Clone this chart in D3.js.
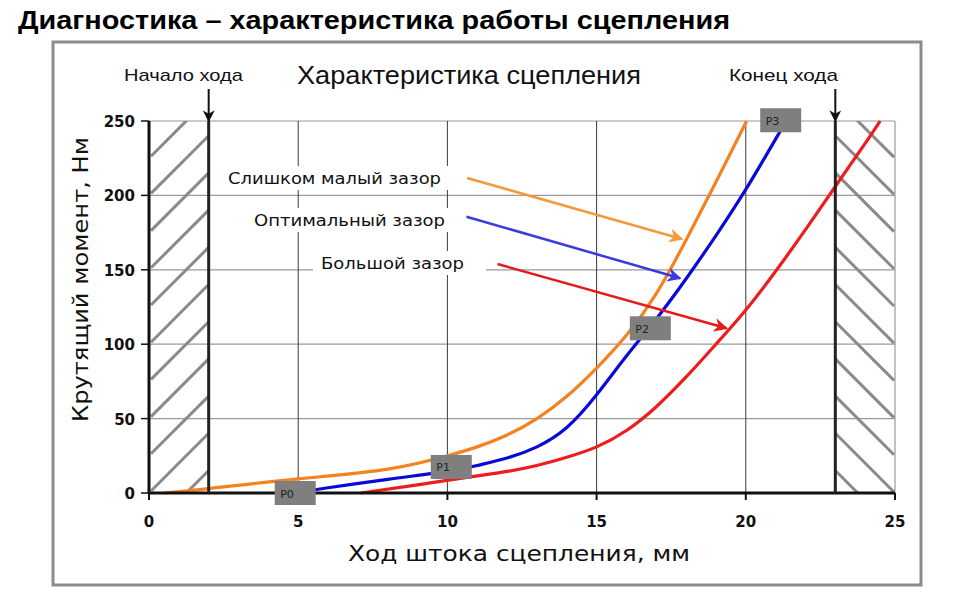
<!DOCTYPE html>
<html><head><meta charset="utf-8">
<script src="https://cdn.jsdelivr.net/npm/d3@7/dist/d3.min.js"></script>
<style>body{margin:0;background:#fff}svg{display:block}</style>
</head><body>
<svg id="c" width="960" height="592"></svg>
<script>
// ---- data ----
const pageTitle = "Диагностика – характеристика работы сцепления";
const chartTitle = "Характеристика сцепления";
const xLabel = "Ход штока сцепления, мм";
const yLabel = "Крутящий момент, Нм";
const xTicks = [0, 5, 10, 15, 20, 25];
const yTicks = [0, 50, 100, 150, 200, 250];
const strokeStart = 2;   // Начало хода
const strokeEnd = 23;    // Конец хода
const markerLabels = ["Начало хода", "Конец хода"];
const seriesNames = ["Слишком малый зазор", "Оптимальный зазор", "Большой зазор"];
const seriesColors = ["#f5821f", "#0a0ad8", "#ee1c1c"];
const arrowColors = ["#f59a3a", "#3a3ae0", "#e61a1a"];
const tooSmall = [[0.5,0],[2,3],[5,9.5],[8,16],[10,25],[11,31],[12,39],[13,50],[14,65],[15,84],[16,106],[17,134],[18,170],[19,209],[20.03,250]];
const optimal  = [[4.9,0],[6,3.5],[8,9.2],[10,14.5],[11,18.5],[12,23.5],[13,31],[14,44],[15,66],[16,92],[17,117],[18,144],[19,173],[20,204],[21.15,243]];
const large    = [[7.1,0],[9,5.5],[11,11.5],[12,14.5],[13,18.5],[14,24],[15,31],[16,42],[17,58],[18,78],[19,100],[20,123],[21,149],[22,177],[23,206],[24,235],[24.5,250]];
// annotation arrows: [label x-end, label y] -> [tip x, tip y] in data units
const arrowStarts = [[10.66,211.7],[10.64,185.7],[11.68,153.9]];
const arrowTips   = [[17.86,170.7],[17.8,144.3],[19.36,110.7]];
const pointNames  = ["P0","P1","P2","P3"];
const pointPos    = [[4.9,0],[10.13,17.5],[16.8,110.7],[21.17,250.5]];

// ---- chart ----
const svg = d3.select("#c");
const x = d3.scaleLinear().domain([0,25]).range([149,895]);
const y = d3.scaleLinear().domain([0,250]).range([493,121]);

const defs = svg.append("defs");
function marker(id, color, size){
  defs.append("marker").attr("id",id).attr("viewBox","0 0 10 10").attr("refX",9).attr("refY",5)
    .attr("markerWidth",size).attr("markerHeight",size).attr("orient","auto").attr("markerUnits","userSpaceOnUse")
    .append("path").attr("d","M0,0 L10,5 L0,10 L3,5 z").attr("fill",color);
}
arrowColors.forEach((c,i)=>marker("m"+i,c,14));
marker("mk","#111",12);

// page title
svg.append("text").attr("x",18).attr("y",29).attr("font-family","'Liberation Sans',Arial,sans-serif")
  .attr("font-weight","bold").attr("font-size",25).attr("fill","#000")
  .attr("textLength",712).attr("lengthAdjust","spacingAndGlyphs").text(pageTitle);

// frame
svg.append("rect").attr("x",53).attr("y",42).attr("width",868).attr("height",543)
  .attr("fill","#fff").attr("stroke","#8c8c8c").attr("stroke-width",3);

// chart title
svg.append("text").attr("x",297).attr("y",84).attr("font-family","'Liberation Sans Narrow','Liberation Sans',Arial,sans-serif")
  .attr("font-size",25).attr("fill","#111").attr("textLength",344).attr("lengthAdjust","spacingAndGlyphs").text(chartTitle);

// grid
const g = svg.append("g");
g.selectAll(".hg").data(yTicks.filter(d=>d>0)).join("line")
  .attr("x1",x(0)).attr("x2",x(25)).attr("y1",d=>y(d)).attr("y2",d=>y(d))
  .attr("stroke","#9a9a9a").attr("stroke-width",1.2);
g.selectAll(".vg").data(xTicks.filter(d=>d>0&&d<25)).join("line")
  .attr("x1",d=>x(d)).attr("x2",d=>x(d)).attr("y1",y(250)).attr("y2",y(0))
  .attr("stroke","#3a3a3a").attr("stroke-width",1);
g.append("line").attr("x1",x(25)).attr("x2",x(25)).attr("y1",y(250)).attr("y2",y(0))
  .attr("stroke","#9a9a9a").attr("stroke-width",1.2);

// label backgrounds and labels
const lblY = [178, 220, 263];
const lblX0 = [228, 254, 321], lblX1 = [441, 445, 464];
seriesNames.forEach((n,i)=>{
  g.append("rect").attr("x",lblX0[i]-8).attr("y",lblY[i]-12).attr("width",lblX1[i]-lblX0[i]+ (i==2?30:16)).attr("height",24).attr("fill","#fff");
  g.append("text").attr("x",lblX0[i]).attr("y",lblY[i]+6).attr("font-family","'DejaVu Sans',Verdana,sans-serif")
    .attr("font-size",16.5).attr("fill","#111").attr("textLength",lblX1[i]-lblX0[i]).attr("lengthAdjust","spacingAndGlyphs").text(n);
});

// hatching
defs.append("clipPath").attr("id","cl").append("rect").attr("x",x(0)).attr("y",y(250)).attr("width",x(strokeStart)-x(0)).attr("height",y(0)-y(250));
defs.append("clipPath").attr("id","cr").append("rect").attr("x",x(strokeEnd)).attr("y",y(250)).attr("width",x(25)-x(strokeEnd)).attr("height",y(0)-y(250));
const hv = d3.range(-25, 300, 25);
const wL = x(strokeStart)-x(0), wR = x(25)-x(strokeEnd);
svg.append("g").attr("clip-path","url(#cl)").selectAll("line").data(hv).join("line")
  .attr("x1",x(0)+2).attr("y1",d=>y(d)-2).attr("x2",x(strokeStart)).attr("y2",d=>y(d)-wL)
  .attr("stroke","#8a8a8a").attr("stroke-width",3);
svg.append("g").attr("clip-path","url(#cr)").selectAll("line").data(hv).join("line")
  .attr("x1",x(strokeEnd)).attr("y1",d=>y(d)-wR).attr("x2",x(25)-1).attr("y2",d=>y(d)-1)
  .attr("stroke","#8a8a8a").attr("stroke-width",3);

// curves
const line = d3.line().x(d=>x(d[0])).y(d=>y(d[1])).curve(d3.curveNatural);
[tooSmall, optimal, large].forEach((s,i)=>{
  svg.append("path").attr("d",line(s)).attr("fill","none").attr("stroke",seriesColors[i]).attr("stroke-width",3.2);
});

// axes
svg.append("line").attr("x1",x(0)).attr("x2",x(0)).attr("y1",y(250)).attr("y2",y(0)+1).attr("stroke","#111").attr("stroke-width",3);
svg.append("line").attr("x1",x(0)-1).attr("x2",x(25)).attr("y1",y(0)).attr("y2",y(0)).attr("stroke","#111").attr("stroke-width",3);
[strokeStart, strokeEnd].forEach(v=>{
  svg.append("line").attr("x1",x(v)).attr("x2",x(v)).attr("y1",y(250)).attr("y2",y(0)).attr("stroke","#222").attr("stroke-width",3);
});
svg.selectAll(".yt").data(yTicks).join("line").attr("x1",x(0)-8).attr("x2",x(0)).attr("y1",d=>y(d)).attr("y2",d=>y(d)).attr("stroke","#111").attr("stroke-width",1.5);
svg.selectAll(".xt").data(xTicks).join("line").attr("x1",d=>x(d)).attr("x2",d=>x(d)).attr("y1",y(0)).attr("y2",y(0)+7).attr("stroke","#111").attr("stroke-width",2);
svg.selectAll(".yl").data(yTicks).join("text").attr("x",x(0)-14).attr("y",d=>y(d)+6)
  .attr("text-anchor","end").attr("font-family","'DejaVu Sans',Verdana,sans-serif").attr("font-weight","bold")
  .attr("font-size",15).attr("fill","#111").text(d=>d);
svg.selectAll(".xl").data(xTicks).join("text").attr("x",d=>x(d)).attr("y",527)
  .attr("text-anchor","middle").attr("font-family","'DejaVu Sans',Verdana,sans-serif").attr("font-weight","bold")
  .attr("font-size",15).attr("fill","#111").text(d=>d);

// axis titles
svg.append("text").attr("x",348).attr("y",561).attr("font-family","'DejaVu Sans',Verdana,sans-serif")
  .attr("font-size",22).attr("fill","#111").attr("textLength",342).attr("lengthAdjust","spacingAndGlyphs").text(xLabel);
svg.append("text").attr("transform","translate(88,422) rotate(-90)").attr("font-family","'DejaVu Sans',Verdana,sans-serif")
  .attr("font-size",22).attr("fill","#111").attr("textLength",285).attr("lengthAdjust","spacingAndGlyphs").text(yLabel);

// stroke markers labels
svg.append("text").attr("x",124).attr("y",81).attr("font-family","'Liberation Sans Narrow','Liberation Sans',Arial,sans-serif")
  .attr("font-size",17).attr("fill","#111").attr("textLength",119).attr("lengthAdjust","spacingAndGlyphs").text(markerLabels[0]);
svg.append("text").attr("x",729).attr("y",81).attr("font-family","'Liberation Sans Narrow','Liberation Sans',Arial,sans-serif")
  .attr("font-size",17).attr("fill","#111").attr("textLength",109).attr("lengthAdjust","spacingAndGlyphs").text(markerLabels[1]);
[strokeStart, strokeEnd].forEach(v=>{
  svg.append("line").attr("x1",x(v)).attr("x2",x(v)).attr("y1",89).attr("y2",y(250)).attr("stroke","#111").attr("stroke-width",2).attr("marker-end","url(#mk)");
});

// point boxes
pointNames.forEach((n,i)=>{
  const cx = x(pointPos[i][0]), cy = y(pointPos[i][1]);
  svg.append("rect").attr("x",cx-20.5).attr("y",cy-12).attr("width",41).attr("height",24).attr("fill","#7f7f7f");
  svg.append("text").attr("x",cx-15).attr("y",cy+4.5).attr("font-family","'DejaVu Sans',Verdana,sans-serif")
    .attr("font-size",11).attr("fill","#222").text(n);
});

// annotation arrows
arrowStarts.forEach((s,i)=>{
  svg.append("line").attr("x1",x(s[0])).attr("y1",y(s[1])).attr("x2",x(arrowTips[i][0])).attr("y2",y(arrowTips[i][1]))
    .attr("stroke",arrowColors[i]).attr("stroke-width",2.5).attr("marker-end","url(#m"+i+")");
});
</script>
</body></html>
